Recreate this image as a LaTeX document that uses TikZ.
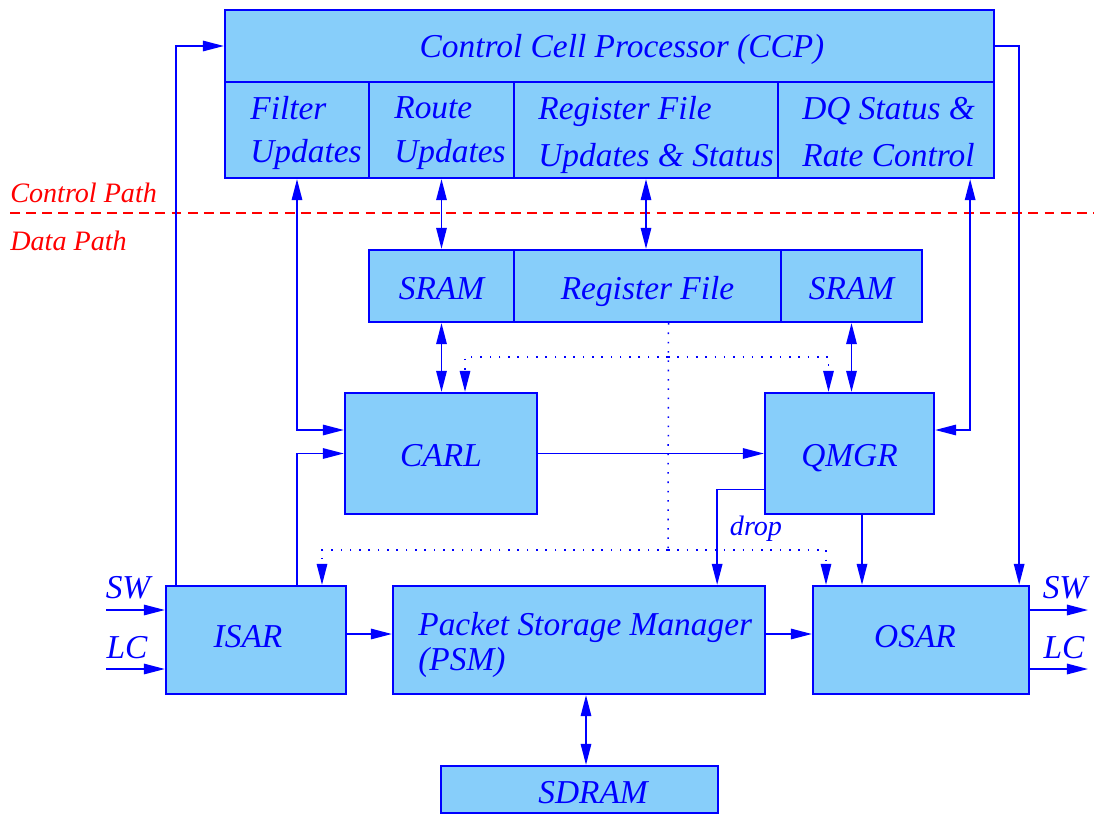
\documentclass[tikz,border=0pt]{standalone}
\usepackage{fontspec}
\setmainfont{Liberation Serif}
\usetikzlibrary{arrows.meta,calc}

\definecolor{cellfill}{RGB}{135,206,250}
\definecolor{wire}{RGB}{0,0,255}
\definecolor{pathred}{RGB}{255,0,0}

\newcommand\boxfont{\fontsize{19}{25}\selectfont\itshape}
\newcommand\wideline{\fontsize{19}{27}\selectfont\itshape}
\newcommand\psmfont{\fontsize{19}{20}\selectfont\itshape}
\newcommand\smallit{\fontsize{16}{19}\selectfont\itshape}

% block from its corners (x1,y1) to (x2,y2), given in pixel units
\newcommand\blockbox[6]{%
  \node[cell, minimum width={(#4-#2)*0.02cm}, minimum height={(#5-#3)*0.02cm}]
    (#1) at ({(#2+#4)/2},{(#3+#5)/2}) {#6};}

\begin{document}
\begin{tikzpicture}[x=0.02cm,y=-0.02cm,
  >={Triangle[length=12pt,width=6pt]},
  cell/.style={draw=wire,fill=cellfill,line width=1.3pt,inner sep=0pt,text=wire,font=\boxfont,
    text height=15pt,text depth=0pt},
  lbl/.style={text=wire,font=\boxfont,inner sep=0pt,align=left},
  wirel/.style={draw=wire,line width=0.85pt},
  dotw/.style={wirel,dash pattern=on 0.9pt off 4.4pt},
  redlbl/.style={text=pathred,font=\smallit,inner sep=0pt,anchor=west},
]
\useasboundingbox (0,0) rectangle (1094,814);

% control / data boundary
\coordinate (bndL) at (10,213);
\coordinate (bndR) at (1094,213);
\draw[pathred,line width=0.8pt,dash pattern=on 5.6pt off 3.6pt] (bndL) -- (bndR);
\node[redlbl] (ctrlpath) at (10,193) {Control Path};
\node[redlbl] (datapath) at (10,241) {Data Path};

% Control Cell Processor
\blockbox{ccp}{225}{10}{994}{82}{}
\node[lbl] (ccptxt) at (622,49) {Control Cell Processor (CCP)};
\blockbox{filt}{225}{82}{369}{178}{}
\node[lbl,anchor=west] (filttxt) at (250,133) {Filter\\Updates};
\blockbox{route}{369}{82}{514}{178}{}
\node[lbl,anchor=west] (routetxt) at (394,133) {Route\\Updates};
\blockbox{rfu}{514}{82}{778}{178}{}
\node[lbl,anchor=west,font=\wideline] (rfutxt) at (538,135) {Register File\\Updates \& Status};
\blockbox{dq}{778}{82}{994}{178}{}
\node[lbl,anchor=west,font=\wideline] (dqtxt) at (802,132) {DQ Status \&\\Rate Control};

% memories
\blockbox{sramA}{369}{250}{514}{322}{SRAM}
\blockbox{rf}{514}{250}{781}{322}{Register File}
\blockbox{sramB}{781}{250}{922}{322}{SRAM}

% processing blocks
\blockbox{carl}{345}{393}{537}{514}{CARL}
\blockbox{qmgr}{765}{393}{934}{514}{QMGR}
\blockbox{isar}{166}{586}{346}{694}{}
\node[lbl] (isartxt) at (248,637) {ISAR};
\blockbox{psm}{393}{586}{765}{694}{}
\node[lbl,anchor=west,font=\psmfont] (psmtxt) at (418,645) {Packet Storage Manager\\(PSM)};
\blockbox{osar}{813}{586}{1029}{694}{}
\node[lbl] (osartxt) at (915,637) {OSAR};
\blockbox{sdram}{441}{766}{718}{813}{}
\node[lbl] (sdramtxt) at (593,793) {SDRAM};

% control connections
\draw[wirel,->] ($(isar.north west)+(11,0)$) |- (ccp.west);
\draw[wirel,->] (ccp.east) -| ($(osar.north east)+(-11,0)$);
\draw[wirel,<->] (filt.south) |- ($(carl.west)+(0,-23.5)$);
\draw[wirel,<->] (route.south) -- (route.south |- sramA.north);
\draw[wirel,<->] (rfu.south) -- (rfu.south |- rf.north);
\draw[wirel,<->] ($(dq.south east)+(-25,0)$) |- ($(qmgr.east)+(0,-23.5)$);

% memory ports
\draw[wirel,<->] (sramA.south) -- (sramA.south |- carl.north);
\draw[wirel,<->] (sramB.south) -- (sramB.south |- qmgr.north);

% register file distribution
\coordinate (rftap) at ($(rf.south)+(21,0)$);
\coordinate (dupper) at (668,357);
\coordinate (dlower) at (668,550);
\draw[dotw] (rftap) -- (dlower);
\draw[dotw,->] (dupper) -| ($(carl.north)+(24,0)$);
\draw[dotw,->] (dupper) -| ($(qmgr.north)+(-21,0)$);
\draw[dotw,->] (dlower) -| ($(isar.north)+(66,0)$);
\draw[dotw,->] (dlower) -| ($(osar.north)+(-95,0)$);

% data path
\draw[wirel,->] (carl.east) -- (qmgr.west);
\draw[wirel,->] (filt.south |- isar.north) |- (carl.west);
\draw[wirel,->] ($(qmgr.west)+(0,36)$) -| ($(psm.north east)+(-49,0)$);
\node[lbl,font=\smallit] (droptxt) at (756,529) {drop};
\draw[wirel,->] ($(qmgr.south)+(12.5,0)$) -- ($(qmgr.south |- osar.north)+(12.5,0)$);
\draw[wirel,->] ($(isar.east)+(0,-6)$) -- ($(psm.west)+(0,-6)$);
\draw[wirel,->] ($(psm.east)+(0,-6)$) -- ($(osar.west)+(0,-6)$);
\draw[wirel,<->] ($(psm.south)+(7,0)$) -- ($(psm.south |- sdram.north)+(7,0)$);

% line interfaces
\coordinate (swin) at (106,610);
\coordinate (lcin) at (106,669);
\coordinate (swout) at (1088,610);
\coordinate (lcout) at (1088,669);
\draw[wirel,->] (swin) -- (isar.west |- swin);
\draw[wirel,->] (lcin) -- (isar.west |- lcin);
\draw[wirel,->] (osar.east |- swout) -- (swout);
\draw[wirel,->] (osar.east |- lcout) -- (lcout);
\node[lbl] (swinl) at (128,588) {SW};
\node[lbl] (lcinl) at (127,648) {LC};
\node[lbl] (swoutl) at (1065,588) {SW};
\node[lbl] (lcoutl) at (1064,648) {LC};
\end{tikzpicture}
\end{document}
